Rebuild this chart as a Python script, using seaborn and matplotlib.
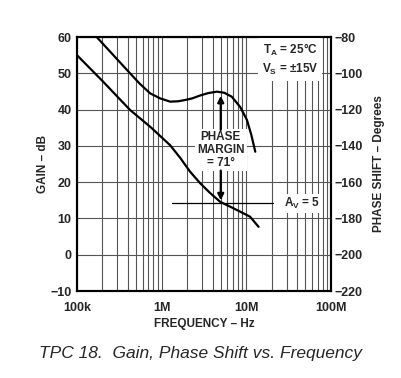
import matplotlib
matplotlib.use("Agg")
import matplotlib.pyplot as plt
import matplotlib.ticker as mticker
import seaborn as sns
import pandas as pd

# === data ===
gain_freq_hz = [1.0e5, 1.98e5, 4.24e5, 7.31e5, 1.26e6, 1.66e6, 2.17e6,
                2.86e6, 3.75e6, 4.92e6, 7.08e6, 1.11e7, 1.40e7]
gain_db = [55.0, 48.0, 39.9, 35.3, 30.2, 26.7, 22.9,
           19.7, 17.0, 14.6, 12.8, 10.5, 7.7]

phase_freq_hz = [1.71e5, 4.24e5, 5.57e5, 7.31e5, 9.6e5, 1.26e6, 1.57e6, 1.9e6,
                 2.30e6, 2.86e6, 3.55e6, 4.5e6, 5.5e6, 6.76e6, 8.5e6,
                 1.02e7, 1.15e7, 1.28e7]
phase_deg = [-80, -100, -105.9, -111, -113.8, -115.6, -115.4, -114.7,
             -113.8, -112.2, -110.9, -110.1, -110.7, -112.9, -118.6,
             -125.7, -134, -143.2]

gain_ticks = [-10, 0, 10, 20, 30, 40, 50, 60]
phase_ticks = [-220, -200, -180, -160, -140, -120, -100, -80]
freq_ticks = [1e5, 1e6, 1e7, 1e8]
freq_labels = ["100k", "1M", "10M", "100M"]

gain_df = pd.DataFrame({"freq": gain_freq_hz, "gain": gain_db})
phase_df = pd.DataFrame({"freq": phase_freq_hz, "phase": phase_deg})

sns.set_style("white")
plt.rcParams.update({
    "font.family": ["Liberation Sans", "DejaVu Sans"],
    "font.weight": "bold",
    "mathtext.fontset": "custom",
    "mathtext.bf": "Liberation Sans:bold",
    "mathtext.rm": "Liberation Sans:bold",
})

fig = plt.figure(figsize=(4.01, 3.78), dpi=100)
ax = fig.add_axes([0.192, 0.230, 0.633, 0.672])
ax2 = ax.twinx()

grid_kw = dict(color="#555555", lw=0.8)
ax.set_xscale("log")
ax.set_xlim(1e5, 1e8)
ax.set_ylim(-10, 60)
ax2.set_ylim(-220, -80)

# grid: every 10 dB, every minor decade step
ax.xaxis.set_minor_locator(mticker.LogLocator(base=10, subs=range(2, 10)))
ax.grid(True, which="both", axis="x", **grid_kw)
ax.grid(True, which="major", axis="y", **grid_kw)

sns.lineplot(data=gain_df, x="freq", y="gain", ax=ax, color="black", lw=1.6)
sns.lineplot(data=phase_df, x="freq", y="phase", ax=ax2, color="black", lw=1.6)

ax.set_xticks(freq_ticks)
ax.set_xticklabels(freq_labels)
ax.xaxis.set_minor_formatter(mticker.NullFormatter())
ax.set_yticks(gain_ticks)
ax2.set_yticks(phase_ticks)
ax.tick_params(axis="both", which="both", length=0, labelsize=9)
ax.tick_params(axis="x", pad=8)
ax.tick_params(axis="y", pad=4)
ax2.tick_params(axis="y", length=0, labelsize=9, pad=3)

ax.set_xlabel("FREQUENCY – Hz", fontsize=8.5, fontweight="bold", labelpad=3)
ax.set_ylabel("GAIN – dB", fontsize=8.5, fontweight="bold", labelpad=1)
ax2.set_ylabel("PHASE SHIFT – Degrees", fontsize=8.5, fontweight="bold", labelpad=7)

for a in (ax, ax2):
    for s in a.spines.values():
        s.set_linewidth(1.5)
        s.set_color("black")

# annotations
box = dict(facecolor="white", edgecolor="none", pad=1.5)
ax.text(3.3e7, 53.8, "$\\mathbf{T_A}$ = 25°C\n$\\mathbf{V_S}$ = ±15V",
        ha="center", va="center", fontsize=8.5, fontweight="bold",
        linespacing=1.3, bbox=dict(facecolor="white", edgecolor="none", pad=3), zorder=3)
ax.text(5.0e6, 28.9, "PHASE\nMARGIN\n= 71°", ha="center", va="center",
        fontsize=8.5, fontweight="bold", linespacing=1.1, bbox=box, zorder=3)
ax.annotate("", xy=(5.0e6, 43.8), xytext=(5.0e6, 34.4),
            arrowprops=dict(arrowstyle="-|>", color="black", lw=1.6,
                            mutation_scale=9, shrinkA=0, shrinkB=0), zorder=4)
ax.annotate("", xy=(5.0e6, 15.0), xytext=(5.0e6, 23.2),
            arrowprops=dict(arrowstyle="-|>", color="black", lw=1.6,
                            mutation_scale=9, shrinkA=0, shrinkB=0), zorder=4)
ax.plot([1.32e6, 2.09e7], [14.2, 14.2], color="black", lw=0.9, zorder=3)
ax.text(2.8e7, 14.2, "$\\mathbf{A_V}$ = 5", ha="left", va="center",
        fontsize=8.5, fontweight="bold", bbox=box, zorder=3)

fig.text(0.5, 0.066, "TPC 18.  Gain, Phase Shift vs. Frequency", ha="center",
         va="center", fontsize=12.5, fontstyle="italic", fontweight="normal")

fig.savefig("out.png", dpi=100)
